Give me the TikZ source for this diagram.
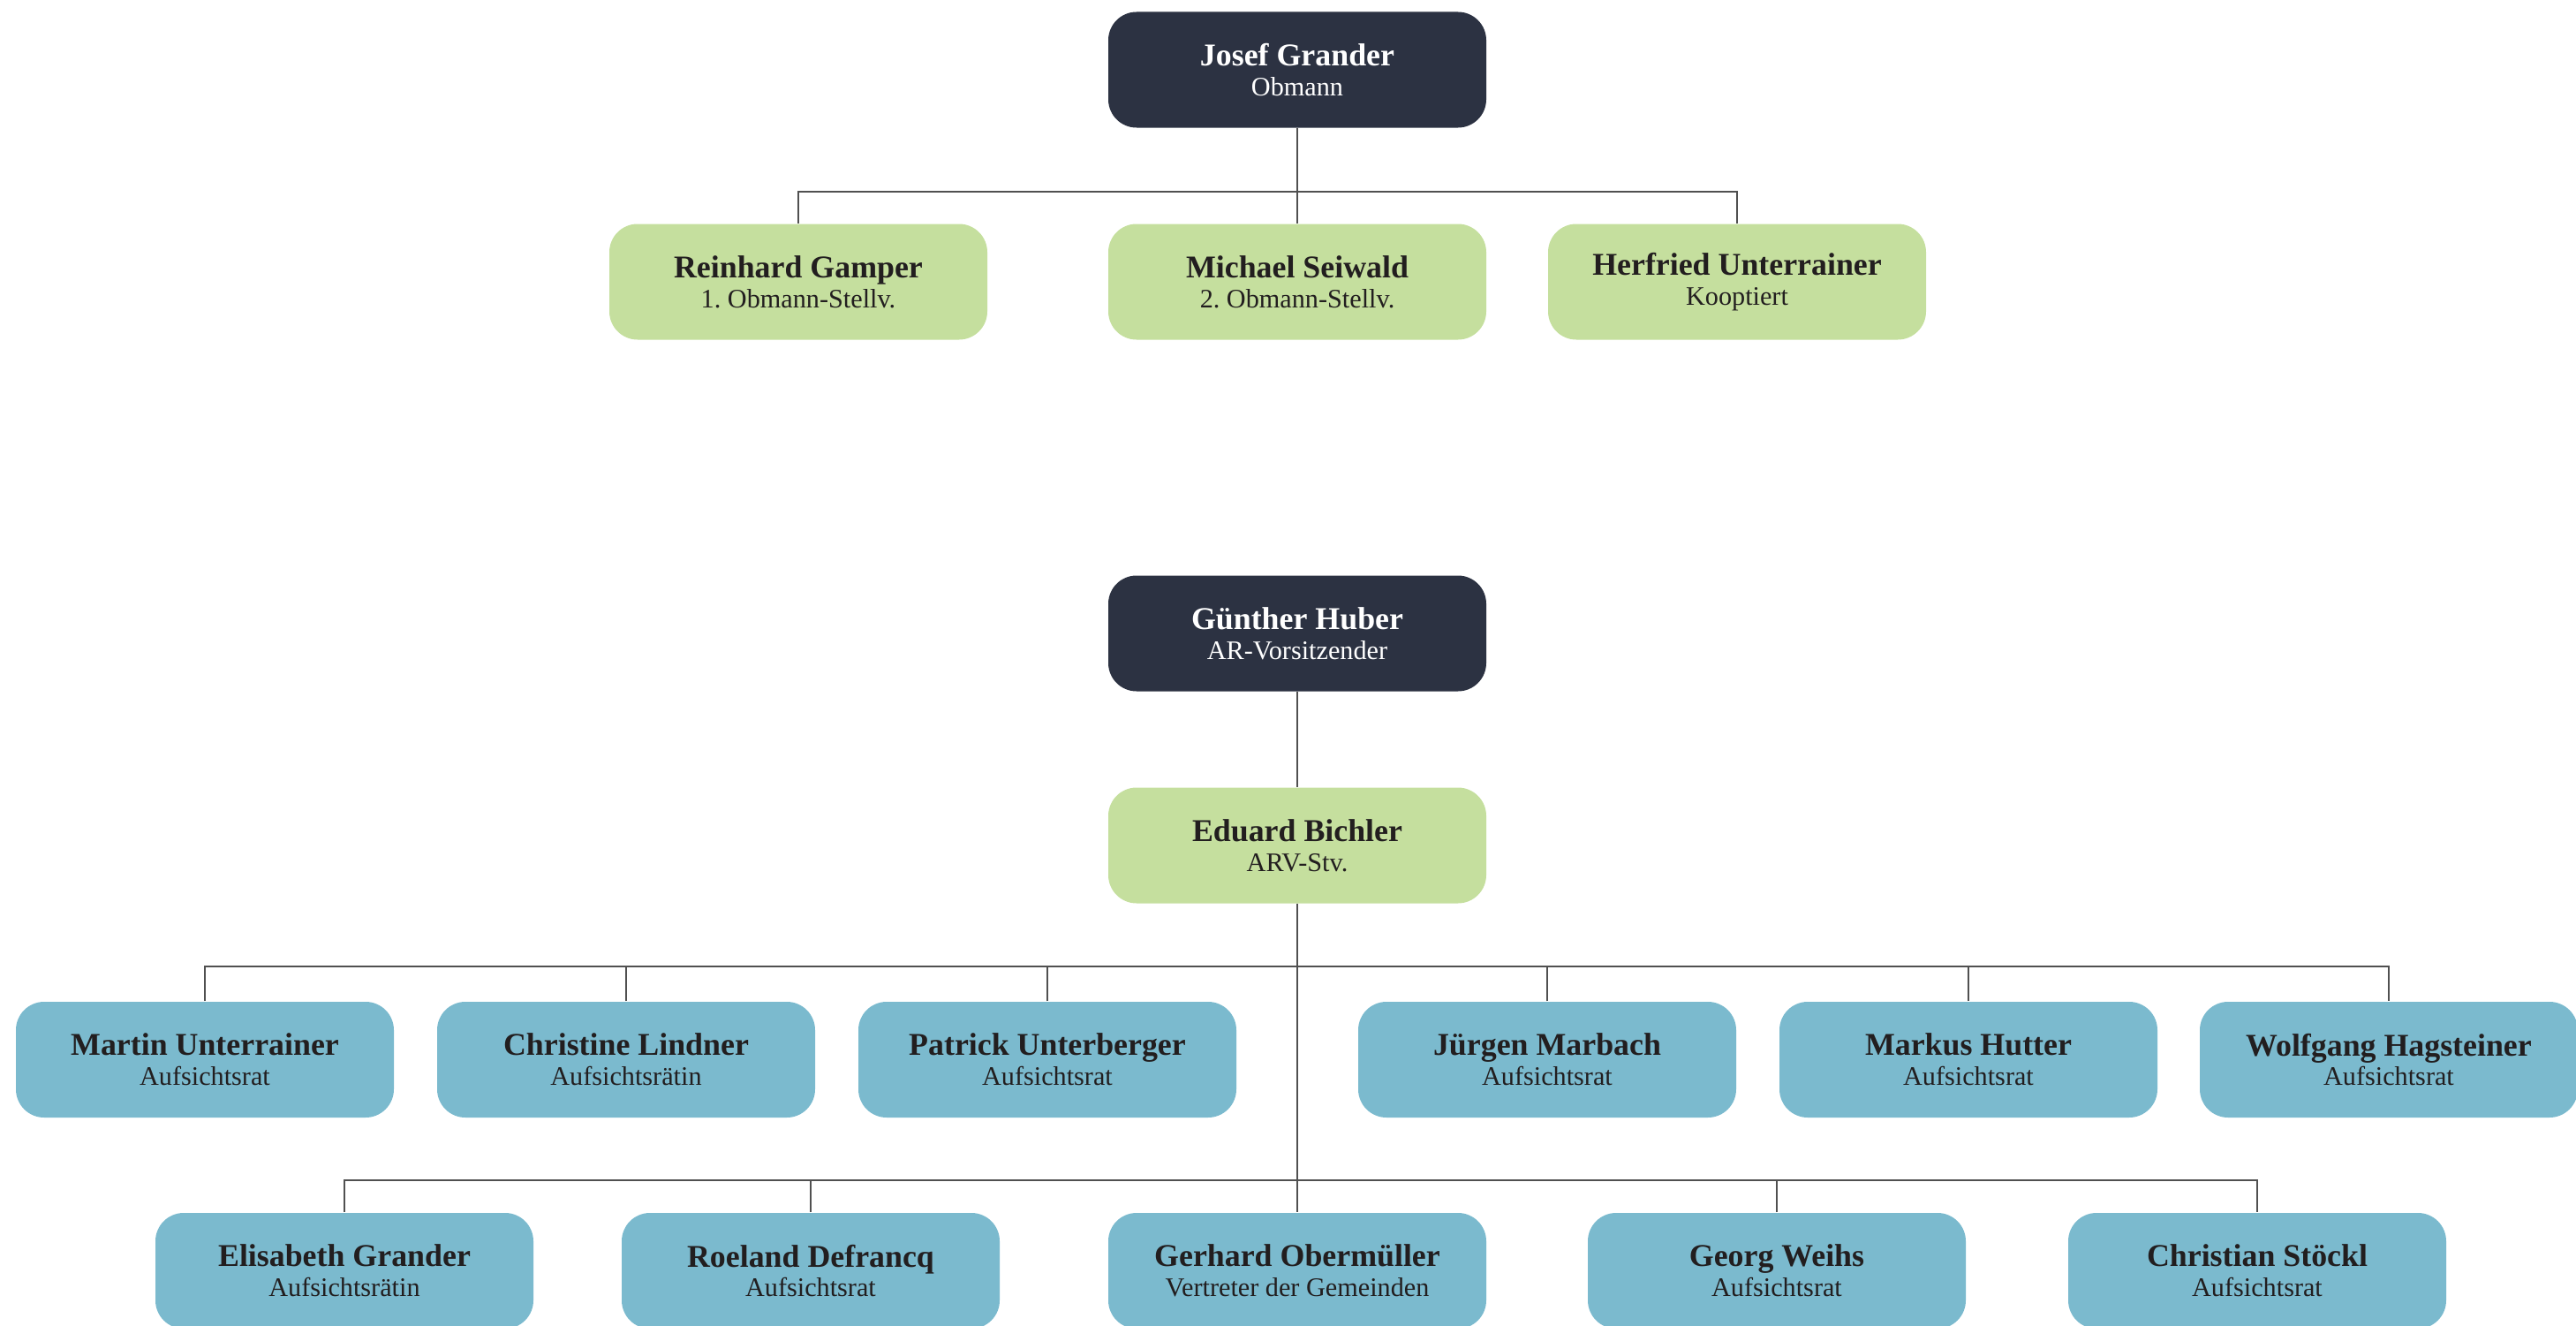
\documentclass[tikz,border=0pt]{standalone}
\usepackage{fontspec}
\setmainfont{Liberation Serif}
\usepackage{tikz}
\usetikzlibrary{positioning,calc}
\usepackage{xcolor}
\definecolor{chairnavy}{RGB}{44,50,66}
\definecolor{deputygreen}{RGB}{197,223,158}
\definecolor{memberblue}{RGB}{123,186,206}
\definecolor{textdark}{RGB}{34,30,31}
\definecolor{linegray}{RGB}{80,80,80}
\newcommand{\orgentry}[2]{{\bfseries #1}\\{\fontsize{8.6}{9.6}\selectfont #2}}
\frenchspacing

\begin{document}
\begin{tikzpicture}[
  box/.style={rectangle,rounded corners=0.32cm,minimum width=4.28cm,minimum height=1.31cm,
    inner sep=0pt,align=center,font=\fontsize{10.2}{9.6}\selectfont,text=textdark},
  chair/.style={box,fill=chairnavy,text=white},
  deputy/.style={box,fill=deputygreen},
  member/.style={box,fill=memberblue},
  link/.style={draw=linegray,line width=0.6pt}
]
\useasboundingbox (0,0) rectangle (29.17,-15.01);

% TOP: Obmann and deputies
\node[chair] (josef) at (14.69,-0.79) {\orgentry{Josef Grander}{Obmann}};
\node[deputy] (reinhard) at (9.04,-3.19) {\orgentry{Reinhard Gamper}{1. Obmann-Stellv.}};
\node[deputy] (michael) at (14.69,-3.19) {\orgentry{Michael Seiwald}{2. Obmann-Stellv.}};
\node[deputy] (herfried) at (19.67,-3.19) {\orgentry{Herfried Unterrainer}{Kooptiert}};
\coordinate (vbus) at (14.69,-2.17);
\draw[link] (josef) -- (michael);
\draw[link] (reinhard.north) -- (reinhard.north |- vbus) -- (herfried.north |- vbus) -- (herfried.north);

% BOTTOM: Aufsichtsrat
\node[chair] (guenther) at (14.69,-7.17) {\orgentry{Günther Huber}{AR-Vorsitzender}};
\node[deputy] (eduard) at (14.69,-9.57) {\orgentry{Eduard Bichler}{ARV-Stv.}};
\draw[link] (guenther) -- (eduard);

% first row of members
\coordinate (abus) at (14.69,-10.94);
\foreach \x/\id/\name/\role in {2.32/martin/Martin Unterrainer/Aufsichtsrat,
  7.09/christine/Christine Lindner/Aufsichtsrätin,
  11.86/patrick/Patrick Unterberger/Aufsichtsrat,
  17.52/juergen/Jürgen Marbach/Aufsichtsrat,
  22.29/markus/Markus Hutter/Aufsichtsrat,
  27.05/wolfgang/Wolfgang Hagsteiner/Aufsichtsrat} {
  \node[member] (\id) at (\x,-11.995) {\orgentry{\name}{\role}};
}

% second row of members
\coordinate (bbus) at (14.69,-13.36);
\foreach \x/\id/\name/\role in {3.90/elisabeth/Elisabeth Grander/Aufsichtsrätin,
  9.18/roeland/Roeland Defrancq/Aufsichtsrat,
  14.69/gerhard/Gerhard Obermüller/Vertreter der Gemeinden,
  20.12/georg/Georg Weihs/Aufsichtsrat,
  25.56/christian/Christian Stöckl/Aufsichtsrat} {
  \node[member] (\id) at (\x,-14.385) {\orgentry{\name}{\role}};
}

% connectors
\draw[link] (eduard) -- (gerhard);
\draw[link] (martin.north) -- (martin.north |- abus) -- (wolfgang.north |- abus) -- (wolfgang.north);
\foreach \id in {christine,patrick,juergen,markus} {
  \draw[link] (\id.north) -- (\id.north |- abus);
}
\draw[link] (elisabeth.north) -- (elisabeth.north |- bbus) -- (christian.north |- bbus) -- (christian.north);
\foreach \id in {roeland,georg} {
  \draw[link] (\id.north) -- (\id.north |- bbus);
}
\end{tikzpicture}
\end{document}
